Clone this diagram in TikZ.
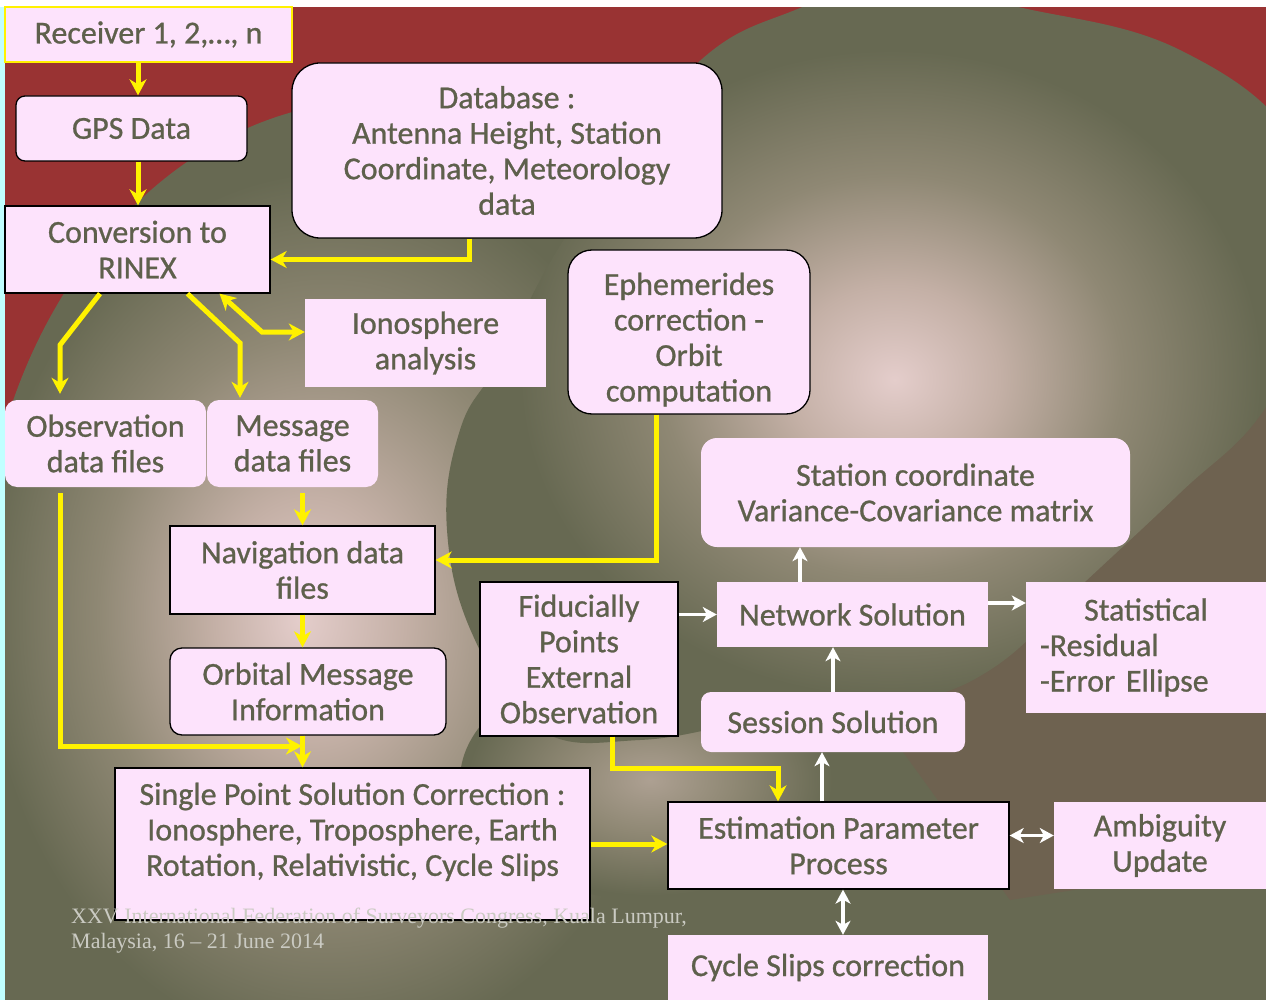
\documentclass[tikz,border=0pt]{standalone}
\usepackage{fontspec}
\setmainfont{Carlito}[FakeBold=0.8]
\newfontfamily\footfont{Liberation Serif}
\usetikzlibrary{arrows.meta,calc}

\definecolor{redbg}{HTML}{993333}
\definecolor{olivebg}{HTML}{676952}
\definecolor{brownbg}{HTML}{6E6250}
\definecolor{glowpink}{HTML}{E4CDCB}
\definecolor{glowmid}{HTML}{C4B0A6}
\definecolor{glowdim}{HTML}{8F8874}
\definecolor{glowtan}{HTML}{ADA092}
\definecolor{boxpink}{HTML}{FDE3FC}
\definecolor{boxtext}{HTML}{5E604C}
\definecolor{foottext}{HTML}{CACAC2}
\definecolor{edgecyan}{HTML}{C0FFFF}

\pgfdeclareradialshading{leftglow}{\pgfpoint{-5bp}{-1bp}}{color(0bp)=(glowpink); color(6bp)=(glowmid); color(14bp)=(glowdim); color(22bp)=(olivebg); color(50bp)=(olivebg)}
\pgfdeclareradialshading{lowglow}{\pgfpoint{0bp}{0bp}}{color(0bp)=(glowtan); color(11bp)=(glowdim); color(24bp)=(olivebg); color(50bp)=(olivebg)}
\pgfdeclareradialshading{rightglow}{\pgfpoint{0.5bp}{-1bp}}{color(0bp)=(glowpink); color(6bp)=(glowmid); color(13bp)=(glowdim); color(21bp)=(olivebg); color(50bp)=(olivebg)}

\begin{document}
\begin{tikzpicture}[x=1pt,y=-1pt,
	pinkbox/.style={fill=boxpink,text=boxtext,font=\fontsize{32}{35.5}\selectfont,align=center,inner sep=0pt},
	blackbox/.style={pinkbox,draw=black,line width=1.3pt},
	yarrow/.style={draw=yellow,line width=5pt,-{Stealth[length=16pt,width=17pt,inset=5pt]}},
	yboth/.style={yarrow,{Stealth[length=16pt,width=17pt,inset=5pt]}-{Stealth[length=16pt,width=17pt,inset=5pt]}},
	warrow/.style={draw=white,line width=3.5pt,-{Stealth[length=14pt,width=15pt,inset=4pt]}},
	wboth/.style={warrow,{Stealth[length=14pt,width=15pt,inset=4pt]}-{Stealth[length=14pt,width=15pt,inset=4pt]}}]
	\useasboundingbox (0,0) rectangle (1266,1000);
	\clip (0,0) rectangle (1266,1000);

	% Background
	\fill[olivebg] (0,0) rectangle (1266,1000);
	\fill[redbg] (0,0) -- (1266,0) -- (1266,330) -- (700,330) -- (400,400) -- (0,650) -- cycle;
	\fill[brownbg] (880,720) -- (1266,330) -- (1266,860) -- (1010,900) -- cycle;
	\shade[shading=leftglow] (380,600) ellipse [x radius=400, y radius=500];
	\shade[shading=lowglow] (650,780) ellipse [x radius=190, y radius=120];
	\shade[shading=rightglow] plot[smooth cycle, tension=0.7] coordinates {(690,70) (800,8) (905,-20) (1010,5) (1180,50) (1300,150) (1320,290) (1264,410) (1180,493) (1087,580) (990,670) (890,705) (760,720) (640,740) (540,730) (475,640) (447,530) (460,430) (500,360) (570,230)};
	\fill[white] (0,0) rectangle (1266,7);
	\fill[edgecyan] (0,7) rectangle (5,1000);

	% Left column
	\node[pinkbox, draw=yellow, line width=1.5pt, minimum width=287pt, minimum height=55pt] (recv) at (148.5,34.5) {Receiver 1, 2,\dots, n};
	\node[blackbox, rounded corners=9pt, minimum width=231pt, minimum height=65pt] (gps) at (131.5,128.5) {GPS Data};
	\node[blackbox, minimum width=265pt, minimum height=87pt] (rinex) at (137.5,249.5) {Conversion to\\RINEX};
	\node[blackbox, rounded corners=28pt, minimum width=430pt, minimum height=175pt] (dbase) at (507,150.5) {Database :\\Antenna Height, Station\\Coordinate, Meteorology\\data};
	\node[pinkbox, minimum width=241pt, minimum height=88pt] (iono) at (425.5,343) {Ionosphere\\analysis};
	\node[blackbox, rounded corners=24pt, minimum width=242pt, minimum height=164pt] (ephem) at (689,332) {\mbox{}\\[2pt]Ephemerides\\correction -\\Orbit\\computation};
	\node[pinkbox, rounded corners=12pt, minimum width=201pt, minimum height=87pt] (obsv) at (105.5,443.5) {Observation\\data files};
	\node[pinkbox, rounded corners=12pt, minimum width=171pt, minimum height=87pt] (msg) at (292.5,443.5) {Message\\data files};
	\node[blackbox, minimum width=265pt, minimum height=88pt] (navi) at (302.5,570) {Navigation data\\files};
	\node[blackbox, rounded corners=12pt, minimum width=276pt, minimum height=87pt] (orbit) at (308,691.5) {Orbital Message\\Information};
	\node[blackbox, minimum width=475pt, minimum height=152pt] (single) at (352.5,844) {Single Point Solution Correction :\\Ionosphere, Troposphere, Earth\\Rotation, Relativistic, Cycle Slips\\[-6pt]\mbox{}};

	% Right part
	\node[pinkbox, rounded corners=16pt, minimum width=429pt, minimum height=109pt] (stco) at (915.5,492.5) {Station coordinate\\Variance-Covariance matrix};
	\node[blackbox, minimum width=198pt, minimum height=154pt] (fidu) at (579,659) {Fiducially\\Points\\External\\Observation};
	\node[pinkbox, minimum width=271pt, minimum height=65pt] (netw) at (852.5,614.5) {Network Solution};
	\node[pinkbox, text width=212pt, align=left, minimum width=240pt, minimum height=131pt] (stat) at (1146,647.5) {\makebox[212pt]{Statistical}\\-Residual\\-Error Ellipse};
	\node[pinkbox, rounded corners=10pt, minimum width=264pt, minimum height=60pt] (sess) at (833,722) {Session Solution};
	\node[blackbox, minimum width=341pt, minimum height=87pt] (estm) at (838.5,845.5) {Estimation Parameter\\Process};
	\node[pinkbox, minimum width=212pt, minimum height=87pt] (ambi) at (1160,845.5) {Ambiguity\\Update};
	\node[pinkbox, minimum width=320pt, minimum height=65pt] (cycl) at (828,967.5) {Cycle Slips correction};

	% Yellow connectors
	\coordinate (obsbend) at (60,345);
	\coordinate (msgbend) at (240,343);
	\coordinate (ionobend) at (262,332);
	\coordinate (obsjoin) at (302,746);
	\draw[yarrow] ([xshift=-10.5pt]recv.south) -- ([xshift=-10.5pt]recv.south |- gps.north);
	\draw[yarrow] ([xshift=6.5pt]gps.south) -- ([xshift=6.5pt]gps.south |- rinex.north);
	\draw[yarrow] ([xshift=-38pt]dbase.south) |- ([yshift=-10pt]rinex.east);
	\draw[yarrow] ([xshift=-37.5pt]rinex.south) -- (obsbend) -- ([yshift=6pt]obsbend |- obsv.north);
	\draw[yarrow] ([xshift=50pt]rinex.south) -- (msgbend) -- ([yshift=2pt]msgbend |- msg.north);
	\draw[yboth] ([xshift=82pt]rinex.south) -- (ionobend) -- (ionobend -| iono.west);
	\draw[yarrow] ([yshift=-6pt]navi.north |- msg.south) -- (navi.north);
	\draw[yarrow] ([xshift=-33pt]ephem.south) |- ([yshift=10pt]navi.east);
	\draw[yarrow] (navi.south) -- (navi.south |- orbit.north);
	\draw[yarrow] (navi.south |- orbit.south) -- (navi.south |- single.north);
	\draw[yarrow] ([xshift=-45.5pt,yshift=-6pt]obsv.south) |- (obsjoin);
	\draw[yarrow] ([xshift=33pt]fidu.south) -- ++(0,32) -| ([xshift=-60.5pt]estm.north);
	\draw[yarrow] (single.east) -- (single.east -| estm.west);

	% White connectors
	\draw[warrow] (fidu.east |- netw.west) -- (netw.west);
	\draw[warrow] ([xshift=-52.5pt]netw.north) -- ([xshift=-52.5pt]netw.north |- stco.south);
	\draw[warrow] ([yshift=11.5pt]netw.east) -- ([yshift=11.5pt]netw.east -| stat.west);
	\draw[warrow] (sess.north) -- (sess.north |- netw.south);
	\draw[warrow] ([xshift=-16.5pt]estm.north) -- ([xshift=-16.5pt]estm.north |- sess.south);
	\draw[wboth] ([yshift=10pt]estm.east) -- ([yshift=10pt]estm.east -| ambi.west);
	\draw[wboth] ([xshift=4.5pt]estm.south) -- ([xshift=4.5pt]estm.south |- cycl.north);

	% Footer
	\node[font=\footfont\fontsize{22}{25}\selectfont, text=foottext, align=left, anchor=north west, inner sep=0pt] (foot) at (71,908) {XXV International Federation of Surveyors Congress, Kuala Lumpur,\\Malaysia, 16 \textendash{} 21 June 2014};
\end{tikzpicture}
\end{document}
